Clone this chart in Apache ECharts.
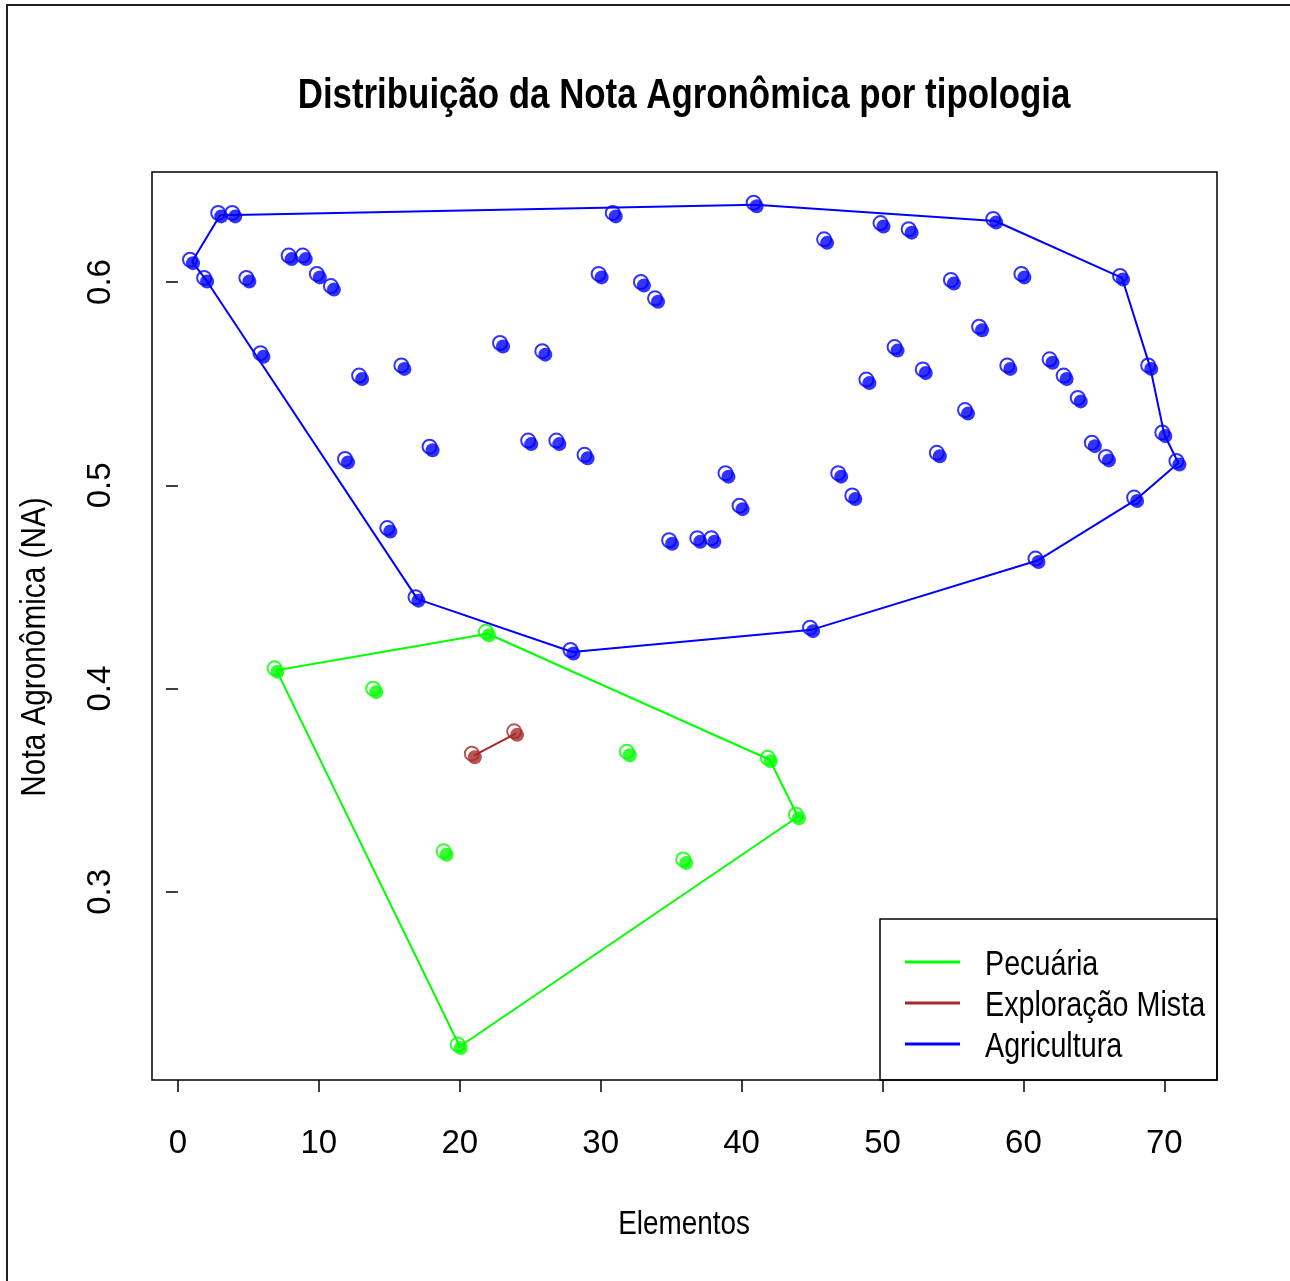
<!DOCTYPE html>
<html>
<head>
<meta charset="utf-8">
<script src="https://cdn.jsdelivr.net/npm/echarts@6/dist/echarts.min.js"></script>
<style>html,body{margin:0;padding:0;background:#fff}#c{width:1290px;height:1281px}</style>
</head>
<body>
<div id="c"></div>
<script>
// ---- data ----
var pecuariaX = [7, 14, 19, 20, 22, 32, 36, 42, 44];
var pecuariaY = [0.409, 0.399, 0.319, 0.224, 0.427, 0.368, 0.315, 0.365, 0.337];
var mistaX = [21, 24];
var mistaY = [0.367, 0.378];
var agriX = [1,2,3,4,5,6,8,9,10,11,12,13,15,16,17,18,23,25,26,27,28,29,30,31,33,34,35,37,38,39,40,41,45,46,47,48,49,50,51,52,53,54,55,56,57,58,59,60,61,62,63,64,65,66,67,68,69,70,71];
var agriY = [0.610,0.601,0.633,0.633,0.601,0.564,0.612,0.612,0.603,0.597,0.512,0.553,0.478,0.558,0.444,0.518,0.569,0.521,0.565,0.521,0.418,0.514,0.603,0.633,0.599,0.591,0.472,0.473,0.473,0.505,0.489,0.638,0.429,0.620,0.505,0.494,0.551,0.628,0.567,0.625,0.556,0.515,0.600,0.536,0.577,0.630,0.558,0.603,0.463,0.561,0.553,0.542,0.520,0.513,0.602,0.493,0.558,0.525,0.511];
var pecuariaHull = [7, 22, 42, 44, 20, 7];
var mistaHull = [21, 24];
var agriHull = [1, 3, 4, 41, 58, 67, 69, 70, 71, 68, 61, 45, 28, 17, 2, 1];
var xTicks = [0, 10, 20, 30, 40, 50, 60, 70];
var yTicks = [0.3, 0.4, 0.5, 0.6];
var groupNames = ['Pecuária', 'Exploração Mista', 'Agricultura'];
var groupColors = ['#00FF00', '#A52A2A', '#0000FF'];
var titleText = 'Distribuição da Nota Agronômica por tipologia';
var xName = 'Elementos';
var yName = 'Nota Agronômica (NA)';

var FONT = "'Liberation Sans',Arial,sans-serif";
var NARROW = 0.82;

function pairs(xs, ys) { return xs.map(function (x, i) { return [x, ys[i]]; }); }
function hull(order, xs, ys) { return order.map(function (e) { var i = xs.indexOf(e); return [xs[i], ys[i]]; }); }

var groups = [
  {name: groupNames[0], color: groupColors[0], pts: pairs(pecuariaX, pecuariaY), hull: hull(pecuariaHull, pecuariaX, pecuariaY)},
  {name: groupNames[1], color: groupColors[1], pts: pairs(mistaX, mistaY), hull: hull(mistaHull, mistaX, mistaY)},
  {name: groupNames[2], color: groupColors[2], pts: pairs(agriX, agriY), hull: hull(agriHull, agriX, agriY)}
];

var series = [];
groups.forEach(function (g) {
  series.push({name: g.name, type: 'line', data: g.hull, showSymbol: false, symbol: 'none', silent: true,
    lineStyle: {color: g.color, width: 2}, itemStyle: {color: g.color}, z: 2, animation: false});
});
groups.forEach(function (g) {
  series.push({name: g.name, type: 'scatter', data: g.pts, symbol: 'circle', symbolSize: 14, symbolOffset: [-2, -2],
    itemStyle: {color: 'rgba(0,0,0,0)', borderColor: g.color, borderWidth: 2}, z: 3, animation: false});
  series.push({name: g.name, type: 'scatter', data: g.pts, symbol: 'circle', symbolSize: 14, symbolOffset: [1, 1.5],
    itemStyle: {color: g.color}, z: 4, animation: false});
});

// legend drawn as graphic (R-style box)
var legendGraphic = [
  {type: 'rect', shape: {x: 880, y: 919, width: 337, height: 161}, style: {fill: 'none', stroke: '#000', lineWidth: 1.5}, z: 10, silent: true}
];
groupNames.forEach(function (n, i) {
  var yy = 962 + i * 41;
  legendGraphic.push({type: 'line', shape: {x1: 905, y1: yy, x2: 960, y2: yy}, style: {stroke: groupColors[i], lineWidth: 3}, z: 10, silent: true});
  legendGraphic.push({type: 'text', x: 985, y: yy + 3, scaleX: NARROW, z: 10, silent: true,
    style: {text: n, font: '35px ' + FONT, fill: '#000', textAlign: 'left', textVerticalAlign: 'middle'}});
});

var chart = echarts.init(document.getElementById('c'));
chart.setOption({
  backgroundColor: '#ffffff',
  animation: false,
  grid: {left: 152, top: 172, width: 1065, height: 908, show: true, borderColor: '#000', borderWidth: 1.5, backgroundColor: 'transparent'},
  xAxis: {type: 'value', min: -1.84, max: 73.74,
    axisLine: {show: false}, splitLine: {show: false},
    axisTick: {show: true, length: 12, customValues: xTicks, lineStyle: {color: '#000', width: 1.5}},
    axisLabel: {customValues: xTicks, margin: 47, fontFamily: FONT, fontSize: 33, color: '#000'}},
  yAxis: {type: 'value', min: 0.2075, max: 0.6541,
    axisLine: {show: false}, splitLine: {show: false},
    axisTick: {show: true, length: 12, customValues: yTicks, lineStyle: {color: '#000', width: 1.5}},
    axisLabel: {customValues: yTicks, rotate: 90, margin: 35, fontFamily: FONT, fontSize: 33, color: '#000',
      formatter: function (v) { return String(Math.round(v * 10) / 10); }}},
  graphic: legendGraphic.concat([
    {type: 'text', x: 684, y: 96, scaleX: NARROW, z: 10, silent: true,
      style: {text: titleText, font: 'bold 42.5px ' + FONT, fill: '#000', textAlign: 'center', textVerticalAlign: 'middle'}},
    {type: 'text', x: 684, y: 1225, scaleX: NARROW, z: 10, silent: true,
      style: {text: xName, font: '34px ' + FONT, fill: '#000', textAlign: 'center', textVerticalAlign: 'middle'}},
    {type: 'text', x: 35, y: 647, rotation: Math.PI / 2, scaleX: 0.85, z: 10, silent: true,
      style: {text: yName, font: '35px ' + FONT, fill: '#000', textAlign: 'center', textVerticalAlign: 'middle'}},
    {type: 'rect', shape: {x: 7, y: 5, width: 1400, height: 1400}, style: {fill: 'none', stroke: '#222', lineWidth: 2}, z: 10, silent: true}
  ]),
  series: series
});
</script>
</body>
</html>
